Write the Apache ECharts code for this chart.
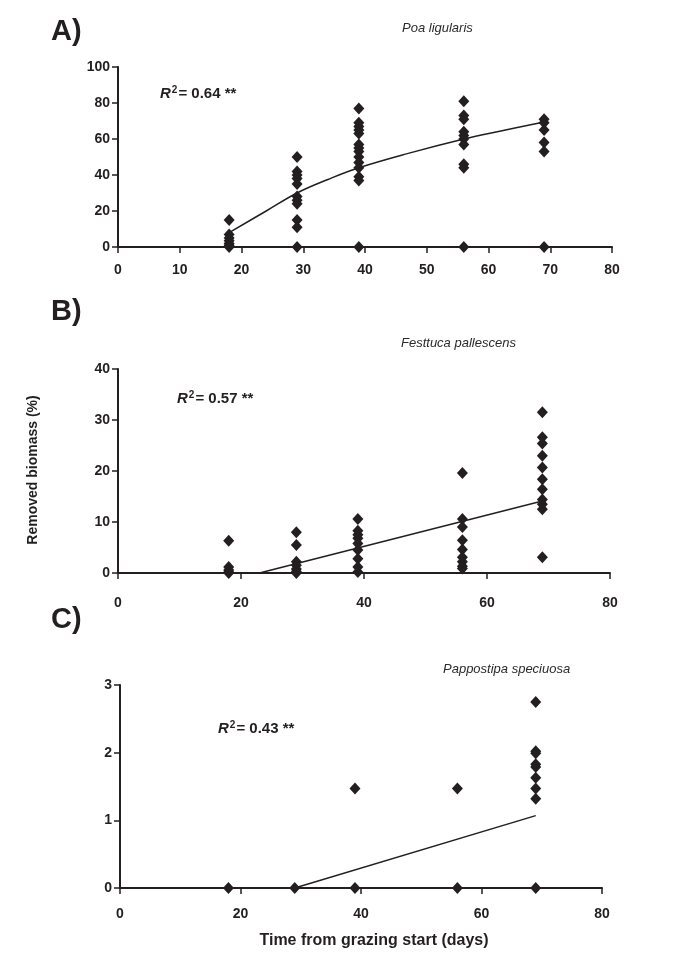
<!DOCTYPE html>
<html>
<head>
<meta charset="utf-8">
<script src="https://cdn.jsdelivr.net/npm/echarts@6/dist/echarts.min.js"></script>
<style>
  html, body { margin: 0; padding: 0; background: #fff; }
  #chart { width: 692px; height: 954px; }
</style>
</head>
<body>
<div id="chart"></div>
<script>
// sampling days
const days = [18, 29, 39, 56, 69]

// A) Poa ligularis, removed biomass (%) per day
const poaValues = [
  [15, 7, 5, 3.5, 2, 1, 0],
  [50, 42, 40, 38, 35, 28, 26, 24, 15, 11, 0],
  [77, 69, 67, 65, 63, 57, 55, 53, 50, 47, 44, 39, 37, 0],
  [81, 73, 71, 64, 62, 60, 57, 46, 44, 0],
  [71, 69, 65, 58, 53, 0],
]
const poaTrendX = [18, 24, 29, 34, 39, 47, 56, 62, 69]
const poaTrendY = [8, 20, 30, 37.5, 44, 52, 60, 64.5, 69.5]

// B) Festuca pallescens
const festValues = [
  [6.3, 1.2, 0.6, 0.2, 0],
  [8, 5.5, 2.2, 1.5, 0.8, 0.3, 0],
  [10.6, 8.3, 7.5, 6.8, 5.8, 4.5, 2.8, 1.2, 0.2],
  [19.6, 10.6, 9, 6.4, 4.6, 3.1, 2.2, 1.3, 0.9],
  [31.5, 26.6, 25.4, 23, 20.7, 18.4, 16.4, 14.4, 13.5, 12.5, 3.1],
]
const festTrendX = [23, 69]
const festTrendY = [0, 14.1]

// C) Pappostipa speciosa
const pappValues = [
  [0],
  [0],
  [1.47, 0],
  [1.47, 0],
  [2.75, 2.02, 1.99, 1.83, 1.79, 1.63, 1.47, 1.32, 0],
]
const pappTrendX = [29, 69]
const pappTrendY = [0, 1.07]

const ink = '#231f20'
const font = '"Liberation Sans", Arial, Helvetica, sans-serif'

function points(values) {
  const out = []
  values.forEach((list, i) => list.forEach(v => out.push([days[i], v])))
  return out
}
function pairs(xs, ys) {
  return xs.map((x, i) => [x, ys[i]])
}

const grids = [
  { left: 118, top: 67, width: 494, height: 180 },
  { left: 118, top: 369, width: 492, height: 204 },
  { left: 120, top: 685, width: 482, height: 203 },
]
const xIntervals = [10, 20, 20]
const yRanges = [
  { max: 100, interval: 20 },
  { max: 40, interval: 10 },
  { max: 3, interval: 1 },
]
const labelMargins = [16, 23, 19]

const axisCommon = {
  axisLine: { lineStyle: { color: ink, width: 2 } },
  axisTick: { length: 6, lineStyle: { color: ink, width: 1.5 } },
  axisLabel: { color: ink, fontFamily: font, fontWeight: 'bold', fontSize: 14 },
  splitLine: { show: false },
}

const xAxis = grids.map((g, i) => ({
  ...axisCommon,
  type: 'value',
  gridIndex: i,
  min: 0,
  max: 80,
  interval: xIntervals[i],
  axisLabel: { ...axisCommon.axisLabel, margin: labelMargins[i] },
}))
const yAxis = grids.map((g, i) => ({
  ...axisCommon,
  type: 'value',
  gridIndex: i,
  min: 0,
  max: yRanges[i].max,
  interval: yRanges[i].interval,
  axisLabel: { ...axisCommon.axisLabel, margin: 8 },
}))

const sets = [
  [poaValues, poaTrendX, poaTrendY, true],
  [festValues, festTrendX, festTrendY, false],
  [pappValues, pappTrendX, pappTrendY, false],
]
const series = []
sets.forEach(([vals, tx, ty, smooth], i) => {
  series.push({
    type: 'line',
    xAxisIndex: i,
    yAxisIndex: i,
    data: pairs(tx, ty),
    smooth: smooth ? 0.4 : false,
    showSymbol: false,
    lineStyle: { color: ink, width: 1.5 },
    z: 3,
    silent: true,
  })
  series.push({
    type: 'scatter',
    xAxisIndex: i,
    yAxisIndex: i,
    data: points(vals),
    symbol: 'diamond',
    symbolSize: [11, 12],
    itemStyle: { color: ink, opacity: 1 },
    clip: false,
    z: 4,
    silent: true,
  })
})

const panelLabel = { fontFamily: font, fontWeight: 'bold', fontSize: 29, color: ink }
const species = { fontFamily: font, fontStyle: 'italic', fontWeight: 'normal', fontSize: 13, color: '#2a2a2a' }
const r2Rich = {
  i: { fontFamily: font, fontWeight: 'bold', fontStyle: 'italic', fontSize: 15, color: ink },
  s: { fontFamily: font, fontWeight: 'bold', fontSize: 10, color: ink, verticalAlign: 'top', padding: [0, 1, 8, 1] },
  b: { fontFamily: font, fontWeight: 'bold', fontSize: 15, color: ink },
}

function r2(text, left, top) {
  return {
    left, top,
    text: '{i|R}{s|2}{b|= ' + text + ' **}',
    textStyle: { rich: r2Rich },
  }
}

const chart = echarts.init(document.getElementById('chart'))
chart.setOption({
  animation: false,
  backgroundColor: '#fff',
  title: [
    { text: 'A)', left: 46, top: 12, textStyle: panelLabel },
    { text: 'B)', left: 46, top: 292, textStyle: panelLabel },
    { text: 'C)', left: 46, top: 600, textStyle: panelLabel },
    { text: 'Poa ligularis', left: 397, top: 17, textStyle: species },
    { text: 'Festtuca pallescens', left: 396, top: 332, textStyle: species },
    { text: 'Pappostipa speciuosa', left: 438, top: 658, textStyle: species },
    r2('0.64', 155, 80),
    r2('0.57', 172, 385),
    r2('0.43', 213, 715),
  ],
  graphic: [
    {
      type: 'text',
      x: 33, y: 470,
      rotation: Math.PI / 2,
      style: {
        text: 'Removed biomass (%)',
        fill: ink,
        font: 'bold 14px ' + font,
        align: 'center',
        verticalAlign: 'middle',
      },
    },
    {
      type: 'text',
      x: 374, y: 941,
      style: {
        text: 'Time from grazing start (days)',
        fill: ink,
        font: 'bold 16px ' + font,
        align: 'center',
        verticalAlign: 'middle',
      },
    },
  ],
  grid: grids,
  xAxis,
  yAxis,
  series,
})
</script>
</body>
</html>
